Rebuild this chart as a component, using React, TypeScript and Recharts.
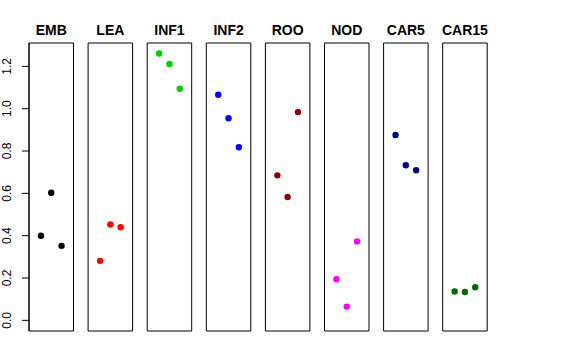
import React from 'react';
import { ScatterChart, Scatter, XAxis, YAxis, ReferenceArea } from 'recharts';

const groups = ['EMB', 'LEA', 'INF1', 'INF2', 'ROO', 'NOD', 'CAR5', 'CAR15'];
const groupColors = ['#000000', '#FF0000', '#00CD00', '#0000FF', '#8B0000', '#FF00FF', '#000080', '#006400'];
const replicateX = [1, 2, 3];
const rep1 = [0.4, 0.281, 1.261, 1.066, 0.685, 0.194, 0.876, 0.136];
const rep2 = [0.603, 0.453, 1.211, 0.955, 0.583, 0.065, 0.733, 0.134];
const rep3 = [0.352, 0.44, 1.094, 0.818, 0.984, 0.373, 0.709, 0.156];
const yTicks = [0, 0.2, 0.4, 0.6, 0.8, 1.0, 1.2];

const X_DOMAIN: [number, number] = [-0.16, 4.16];
const Y_DOMAIN: [number, number] = [-0.0504, 1.3104];

const W = 576;
const H = 360;
const PANEL_W = 44.5;
const PANEL_STEP = 59.1;
const FIRST_LEFT = 29;
const TOP = 43;
const BOTTOM = 29;
const FONT = '"Liberation Sans", Arial, Helvetica, sans-serif';

const YTick = (props: any) => {
  const { y, payload } = props;
  const x = 11;
  return (
    <g>
      <text
        x={x}
        y={y}
        transform={`rotate(-90, ${x}, ${y})`}
        textAnchor="middle"
        fontSize={12}
        fontFamily={FONT}
        fill="#000"
      >
        {Number(payload.value).toFixed(1)}
      </text>
    </g>
  );
};

function Panel({ index }: { index: number }) {
  const left = FIRST_LEFT + index * PANEL_STEP;
  const data = replicateX.map((x, k) => ({
    x,
    y: [rep1, rep2, rep3][k][index],
  }));
  const isFirst = index === 0;
  const color = groupColors[index];
  return (
    <div style={{ position: 'absolute', left: 0, top: 0, width: W, height: H }}>
      <ScatterChart
        width={W}
        height={H}
        margin={{
          top: TOP,
          bottom: BOTTOM,
          left: isFirst ? 0 : left,
          right: W - left - PANEL_W,
        }}
      >
        <XAxis type="number" dataKey="x" domain={X_DOMAIN} hide allowDataOverflow />
        <YAxis
          type="number"
          dataKey="y"
          domain={Y_DOMAIN}
          ticks={yTicks}
          hide={!isFirst}
          width={isFirst ? left : 0}
          allowDataOverflow
          tickSize={7}
          tickLine={{ stroke: '#000' }}
          axisLine={{ stroke: '#000' }}
          tick={<YTick />}
          interval={0}
        />
        <ReferenceArea
          x1={X_DOMAIN[0]}
          x2={X_DOMAIN[1]}
          y1={Y_DOMAIN[0]}
          y2={Y_DOMAIN[1]}
          fill="none"
          fillOpacity={0}
          stroke="#000"
          strokeWidth={1}
          strokeOpacity={1}
          ifOverflow="visible"
          label={{
            value: groups[index],
            position: 'top',
            offset: 8,
            fontSize: 14,
            fontWeight: 'bold',
            fontFamily: FONT,
            fill: '#000',
          }}
        />
        <Scatter
          data={data}
          isAnimationActive={false}
          fill={color}
          shape={(p: any) => <circle cx={p.cx} cy={p.cy} r={3.2} fill={color} />}
        />
      </ScatterChart>
    </div>
  );
}

export default function App() {
  return (
    <div style={{ position: 'absolute', left: 0, top: 0, width: W, height: H, background: '#fff' }}>
      {groups.map((_, i) => (
        <Panel key={i} index={i} />
      ))}
    </div>
  );
}
